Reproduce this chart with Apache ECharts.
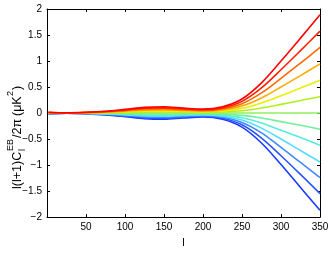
<!DOCTYPE html>
<html>
<head>
<meta charset="utf-8">
<script src="https://cdn.jsdelivr.net/npm/echarts@6/dist/echarts.min.js"></script>
<style>
html,body{margin:0;padding:0;background:#fff;}
#c{width:332px;height:253px;}
</style>
</head>
<body>
<div id="c"></div>
<script>
// multipole values
const ells = [2, 25, 50, 75, 100, 125, 150, 175, 200, 225, 250, 275, 300, 325, 350];
// curves, from the top (red) to the bottom (blue)
const curveP6 = [0.015, 0.005, 0.015, 0.035, 0.07, 0.11, 0.12, 0.095, 0.075, 0.12, 0.27, 0.58, 1.00, 1.44, 1.89];
const curveP5 = [0.012, 0.004, 0.012, 0.029, 0.058, 0.092, 0.10, 0.079, 0.062, 0.10, 0.225, 0.483, 0.833, 1.20, 1.575];
const curveP4 = [0.010, 0.003, 0.010, 0.023, 0.047, 0.073, 0.08, 0.063, 0.05, 0.08, 0.18, 0.387, 0.667, 0.96, 1.26];
const curveP3 = [0.008, 0.003, 0.008, 0.018, 0.035, 0.055, 0.06, 0.048, 0.037, 0.06, 0.135, 0.29, 0.50, 0.72, 0.945];
const curveP2 = [0.005, 0.002, 0.005, 0.012, 0.023, 0.037, 0.04, 0.032, 0.025, 0.04, 0.09, 0.193, 0.333, 0.48, 0.63];
const curveP1 = [0.003, 0.001, 0.003, 0.006, 0.012, 0.018, 0.02, 0.016, 0.012, 0.02, 0.045, 0.097, 0.167, 0.24, 0.315];
const curveZ0 = [0, 0, 0, 0, 0, 0, 0, 0, 0, 0, 0, 0, 0, 0, 0];
const curveM1 = [-0.003, -0.001, -0.003, -0.006, -0.012, -0.018, -0.02, -0.016, -0.012, -0.02, -0.045, -0.095, -0.165, -0.235, -0.31];
const curveM2 = [-0.005, -0.002, -0.005, -0.012, -0.023, -0.037, -0.04, -0.032, -0.025, -0.04, -0.09, -0.19, -0.33, -0.47, -0.62];
const curveM3 = [-0.008, -0.003, -0.008, -0.018, -0.035, -0.055, -0.06, -0.048, -0.037, -0.06, -0.135, -0.29, -0.50, -0.72, -0.94];
const curveM4 = [-0.010, -0.003, -0.010, -0.023, -0.047, -0.073, -0.08, -0.063, -0.05, -0.08, -0.18, -0.38, -0.66, -0.95, -1.24];
const curveM5 = [-0.012, -0.004, -0.012, -0.029, -0.058, -0.092, -0.10, -0.079, -0.062, -0.10, -0.225, -0.48, -0.82, -1.18, -1.55];
const curveM6 = [-0.015, -0.005, -0.015, -0.035, -0.07, -0.11, -0.12, -0.095, -0.075, -0.12, -0.27, -0.575, -0.99, -1.43, -1.87];
const xTicks = [50, 100, 150, 200, 250, 300, 350];
const yTicks = [-2, -1.5, -1, -0.5, 0, 0.5, 1, 1.5, 2];

const curves = [curveM6, curveM5, curveM4, curveM3, curveM2, curveM1, curveZ0, curveP1, curveP2, curveP3, curveP4, curveP5, curveP6];
const colors = ['#1a3aff', '#2a55ff', '#4488ff', '#55ddff', '#55eedd', '#70f09a', '#90f060', '#b0f020', '#e8f000', '#ffaa00', '#ff6a00', '#ff2200', '#ff0000'];

const chart = echarts.init(document.getElementById('c'), null, {renderer: 'canvas'});
const font = 'Liberation Sans, Arial, Helvetica, sans-serif';
const fmt = v => (v < 0 ? '\u2212' + String(-v) : String(v));

const series = curves.map((c, i) => ({
  type: 'line',
  data: c.map((v, j) => [ells[j], v]),
  smooth: 0.35,
  symbol: 'none',
  lineStyle: {color: colors[i], width: 1.6},
  xAxisIndex: 0, yAxisIndex: 0,
  z: 2 + i
}));

const tickStyle = {inside: true, length: 3, lineStyle: {color: '#000', width: 1}};

chart.setOption({
  animation: false,
  backgroundColor: '#fff',
  grid: {left: 47, right: 12, top: 9, bottom: 27, containLabel: false},
  xAxis: [{
    type: 'value', min: 0, max: 350, interval: 50,
    axisLine: {show: true, onZero: false, lineStyle: {color: '#000', width: 1}},
    axisTick: tickStyle,
    splitLine: {show: false},
    axisLabel: {color: '#000', fontFamily: font, fontSize: 10, margin: 5,
      formatter: v => (xTicks.indexOf(v) >= 0 ? String(v) : '')},
    name: 'l', nameLocation: 'middle', nameGap: 18,
    nameTextStyle: {color: '#000', fontFamily: font, fontSize: 11}
  }, {
    type: 'value', min: 0, max: 350, interval: 50, position: 'top',
    axisLine: {show: true, onZero: false, lineStyle: {color: '#000', width: 1}},
    axisTick: tickStyle, axisLabel: {show: false}, splitLine: {show: false}
  }],
  yAxis: [{
    type: 'value', min: -2, max: 2, interval: 0.5,
    axisLine: {show: true, onZero: false, lineStyle: {color: '#000', width: 1}},
    axisTick: tickStyle,
    splitLine: {show: false},
    axisLabel: {color: '#000', fontFamily: font, fontSize: 10, margin: 5,
      formatter: v => (yTicks.indexOf(v) >= 0 ? fmt(v) : '')}
  }, {
    type: 'value', min: -2, max: 2, interval: 0.5, position: 'right',
    axisLine: {show: true, onZero: false, lineStyle: {color: '#000', width: 1}},
    axisTick: tickStyle, axisLabel: {show: false}, splitLine: {show: false}
  }],
  graphic: [{
    type: 'group',
    x: 18, y: 189,
    rotation: Math.PI / 2,
    children: [
      {type: 'text', x: 0, y: 0, style: {text: 'l(l+1)C', font: '12.5px ' + font, fill: '#000', verticalAlign: 'middle', align: 'left'}},
      {type: 'text', x: 38, y: -7, style: {text: 'EB', font: '9px ' + font, fill: '#000', verticalAlign: 'middle', align: 'left'}},
      {type: 'text', x: 38, y: 5, style: {text: 'l', font: '9px ' + font, fill: '#000', verticalAlign: 'middle', align: 'left'}},
      {type: 'text', x: 51, y: 0, style: {text: '/2\u03c0', font: '12.5px ' + font, fill: '#000', verticalAlign: 'middle', align: 'left'}},
      {type: 'text', x: 73, y: 0, style: {text: '(\u03bcK', font: '12.5px ' + font, fill: '#000', verticalAlign: 'middle', align: 'left'}},
      {type: 'text', x: 93, y: -7, style: {text: '2', font: '9px ' + font, fill: '#000', verticalAlign: 'middle', align: 'left'}},
      {type: 'text', x: 99, y: 0, style: {text: ')', font: '12.5px ' + font, fill: '#000', verticalAlign: 'middle', align: 'left'}}
    ]
  }],
  series: series
});
</script>
</body>
</html>
